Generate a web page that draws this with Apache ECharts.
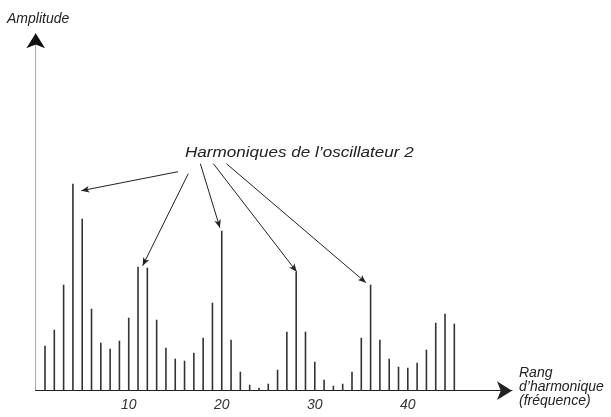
<!DOCTYPE html>
<html><head><meta charset="utf-8">
<script src="https://cdn.jsdelivr.net/npm/echarts@6/dist/echarts.min.js"></script>
<style>html,body{margin:0;padding:0;background:#fff}#c{width:611px;height:417px}</style>
</head><body><div id="c"></div>
<script>
// ---- data ----
const harmonics = [1,2,3,4,5,6,7,8,9,10,11,12,13,14,15,16,17,18,19,20,21,22,23,24,25,26,27,28,29,30,31,32,33,34,35,36,37,38,39,40,41,42,43,44,45];
const amplitudes = [45,61,106,207,172,82,48,42,50,73,124,123,71,43,32,30,38,53,88,160,51,19,6,3,7,21,59,119,59,29,11,5,7,19,53,106,51,32,24,23,28,41,68,77,67];
const tickLabels = [10,20,30,40];
const annotatedHarmonics = [4,11,20,28,36];
const annotationText = 'Harmoniques de l\u2019oscillateur 2';
const yTitle = 'Amplitude';
const xTitle = 'Rang\nd\u2019harmonique\n(fr\u00e9quence)';

// ---- layout (annotation geometry, in axis units) ----
const arrowStarts = [[15.3,219],[16.4,217],[17.7,227],[19.1,227],[20.5,227]];
const arrowTipOffsets = [[0.9,-7],[0.5,1],[-0.2,3],[0.05,0],[-0.5,2]];
const Y_MAX = 357.5;

const FONT = '"Liberation Sans", Arial, Helvetica, sans-serif';
const chart = echarts.init(document.getElementById('c'), null, {renderer:'canvas'});

const barData = harmonics.map((h,i)=>[h, amplitudes[i]]);
const arrowLines = annotatedHarmonics.map((h,k)=>{
  const idx = harmonics.indexOf(h);
  return [
    {coord: arrowStarts[k], symbol:'none'},
    {coord: [h + arrowTipOffsets[k][0], amplitudes[idx] + arrowTipOffsets[k][1]], symbol:'arrow', symbolSize:[5,8]}
  ];
});
// arrowhead of the y axis (black on a grey line)
arrowLines.push([
  {coord:[0,Y_MAX-6], symbol:'none', lineStyle:{width:0}},
  {coord:[0,Y_MAX], symbol:'arrow', symbolSize:[14,15], lineStyle:{width:0, color:'#111'}}
]);

chart.setOption({
  animation:false,
  backgroundColor:'#fff',
  grid:{left:35.7, right:99, top:33.2, bottom:26.3},
  xAxis:{
    type:'value', min:0, max:51.2, interval:10,
    axisLine:{show:true, lineStyle:{color:'#222', width:1.2}, symbol:['none','arrow'], symbolSize:[14,15]},
    axisTick:{show:false},
    splitLine:{show:false},
    axisLabel:{customValues:tickLabels, margin:7, fontFamily:FONT, fontStyle:'italic', fontSize:14, color:'#333'}
  },
  yAxis:{
    type:'value', min:0, max:Y_MAX,
    axisLine:{show:true, lineStyle:{color:'#aaa', width:1}},
    axisTick:{show:false}, axisLabel:{show:false}, splitLine:{show:false}
  },
  series:[{
    type:'bar',
    data:barData,
    barWidth:1.6,
    itemStyle:{color:'#333'},
    silent:true,
    markLine:{
      silent:true,
      animation:false,
      label:{show:false},
      lineStyle:{color:'#222', width:1, type:'solid'},
      data:arrowLines
    }
  }],
  graphic:[
    {type:'text', x:7, y:12, style:{text:yTitle, font:'italic 14px '+FONT, fill:'#222', textVerticalAlign:'top'}},
    {type:'text', x:519, y:366, style:{text:xTitle, font:'italic 14px '+FONT, fill:'#222', lineHeight:14, textVerticalAlign:'top'}},
    {type:'text', x:185, y:146, scaleX:1.22, style:{text:annotationText, font:'italic 14px '+FONT, fill:'#222', textVerticalAlign:'top'}}
  ]
});
</script>
</body></html>
